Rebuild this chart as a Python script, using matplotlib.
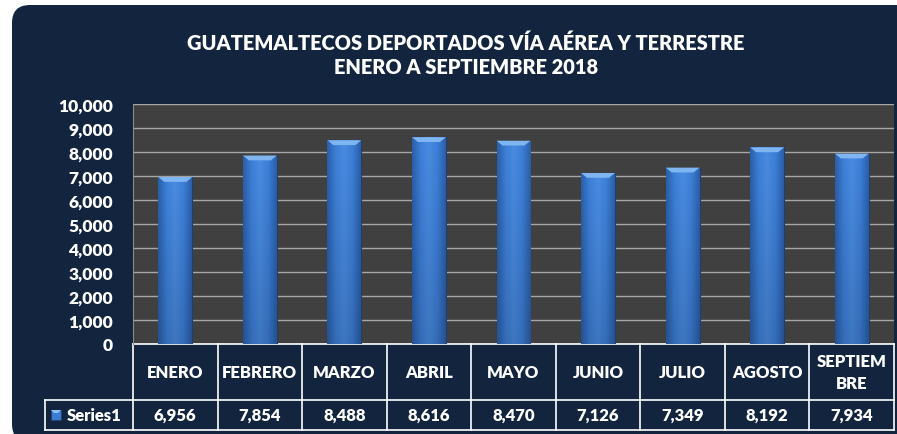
import matplotlib
matplotlib.use("Agg")
import matplotlib.pyplot as plt
import numpy as np
from matplotlib.patches import FancyBboxPatch, Polygon, Rectangle
from matplotlib.lines import Line2D
import matplotlib.transforms as mtransforms
from matplotlib.colors import LinearSegmentedColormap

months = ["ENERO", "FEBRERO", "MARZO", "ABRIL", "MAYO", "JUNIO", "JULIO", "AGOSTO", "SEPTIEM\nBRE"]
values = [6956, 7854, 8488, 8616, 8470, 7126, 7349, 8192, 7934]
series_name = "Series1"
title_lines = ["GUATEMALTECOS DEPORTADOS VÍA AÉREA Y TERRESTRE", "ENERO A SEPTIEMBRE 2018"]
yticks = list(range(0, 10001, 1000))

FONT = ["Lato", "DejaVu Sans"]
plt.rcParams['font.family'] = FONT
WT = "heavy"

W, H = 897, 435
NAVY = "#13243f"
fig = plt.figure(figsize=(W / 100, H / 100), dpi=100)
fig.patch.set_facecolor("white")

pix = mtransforms.IdentityTransform()
panel = FancyBboxPatch((12, -8), 920, 437, boxstyle="round,pad=0,rounding_size=18",
                       transform=pix, facecolor=NAVY, edgecolor="none", zorder=-10)
fig.patches.append(panel)

ax_l, ax_r, ax_b, ax_t = 133, 894, 90, 330
ax = fig.add_axes([ax_l / W, ax_b / H, (ax_r - ax_l) / W, (ax_t - ax_b) / H])
ax.set_zorder(1)
ax.set_facecolor("#404040")
x = np.arange(len(values))
ax.set_xlim(-0.5, len(values) - 0.5)
ax.set_ylim(0, 10000)
ax.set_yticks(yticks)
ax.set_yticklabels([f"{v:,}" for v in yticks], color="white", fontsize=12.5, fontweight=WT)
ax.tick_params(axis="y", length=0, pad=14.5)
ax.set_xticks([])
for s in ["top", "right", "bottom"]:
    ax.spines[s].set_visible(False)
ax.spines["left"].set_color("#8a8a8a")
ax.yaxis.grid(True, color="#a8a8a8", linewidth=1)
ax.set_axisbelow(True)

bw = 0.4
bars = ax.bar(x, values, width=bw, color="#3b7bd2", edgecolor="#1e3f72", linewidth=0.8, zorder=3)

cmap = LinearSegmentedColormap.from_list("b", ["#2b5fa9", "#3d7fd8", "#4a8ce2", "#3d7fd8", "#2b5fa9"])
grad_x = np.linspace(0, 1, 64)
grad = np.tile(grad_x, (32, 1))
shade = np.linspace(0.85, 1.0, 32)[:, None]
for b, v in zip(bars, values):
    x0 = b.get_x()
    rgba = cmap(grad)
    rgba[..., :3] *= shade[..., None]
    im = ax.imshow(rgba, extent=[x0, x0 + bw, 0, v], aspect="auto", origin="lower", zorder=3.5)
    im.set_clip_path(b)
    d = 0.07
    hgt = 200
    bevel = Polygon([[x0, v], [x0 + bw, v], [x0 + bw - d, v - hgt], [x0 + d, v - hgt]],
                    closed=True, facecolor="#7fb6f2", edgecolor="none", zorder=4)
    ax.add_patch(bevel)

ax.set_xlim(-0.5, len(values) - 0.5)
ax.set_ylim(0, 10000)

# Title
fig.text(466 / W, 1 - 43 / H, title_lines[0], ha="center", va="center", color="white",
         fontsize=14.4, fontweight=WT)
fig.text(466 / W, 1 - 68 / H, title_lines[1], ha="center", va="center", color="white",
         fontsize=14.4, fontweight=WT)

# Data table
tr = mtransforms.blended_transform_factory(ax.transData, ax.transAxes)
axh = ax_t - ax_b
y_top = 0.0
y_mid = -(401 - 345) / axh
y_bot = -(431 - 345) / axh
x_rowhdr = (45 - ax_l) / (ax_r - ax_l)
lc = "white"
lw = 1.2
ax.add_line(Line2D([-0.5, len(values) - 0.5], [y_top, y_top], transform=tr, color=lc, lw=lw, clip_on=False))
ax.add_line(Line2D([x_rowhdr, 1], [y_mid, y_mid], transform=ax.transAxes, color=lc, lw=lw, clip_on=False))
ax.add_line(Line2D([x_rowhdr, 1], [y_bot, y_bot], transform=ax.transAxes, color=lc, lw=lw, clip_on=False))
ax.add_line(Line2D([x_rowhdr, x_rowhdr], [y_mid, y_bot], transform=ax.transAxes, color=lc, lw=lw, clip_on=False))
for i in range(len(values) + 1):
    ax.add_line(Line2D([i - 0.5, i - 0.5], [y_top, y_bot], transform=tr, color=lc, lw=lw, clip_on=False))

for i, (m, v) in enumerate(zip(months, values)):
    ax.text(i, (y_top + y_mid) / 2, m, transform=tr, ha="center", va="center", color="white",
            fontsize=12, fontweight=WT, linespacing=1.5)
    ax.text(i, (y_mid + y_bot) / 2, f"{v:,}", transform=tr, ha="center", va="center",
            color="white", fontsize=12, fontweight=WT)

# legend key
kx0 = (51 - ax_l) / (ax_r - ax_l)
kw = 10 / (ax_r - ax_l)
kh = 10 / axh
ky = (y_mid + y_bot) / 2 - kh / 2
key = Rectangle((kx0, ky), kw, kh, transform=ax.transAxes, facecolor="#3b7bd2",
                edgecolor="#1e3f72", lw=0.5, clip_on=False)
ax.add_patch(key)
ax.add_patch(Polygon([[kx0, ky + kh], [kx0 + kw, ky + kh], [kx0 + kw * 0.7, ky + kh * 0.7],
                      [kx0 + kw * 0.3, ky + kh * 0.7]], closed=True, transform=ax.transAxes,
                     facecolor="#8cc0f6", edgecolor="none", clip_on=False))
ax.text((67 - ax_l) / (ax_r - ax_l), (y_mid + y_bot) / 2, series_name, transform=ax.transAxes,
        ha="left", va="center", color="white", fontsize=12, fontweight=WT)

fig.savefig("out.png", dpi=100, facecolor=fig.get_facecolor())
